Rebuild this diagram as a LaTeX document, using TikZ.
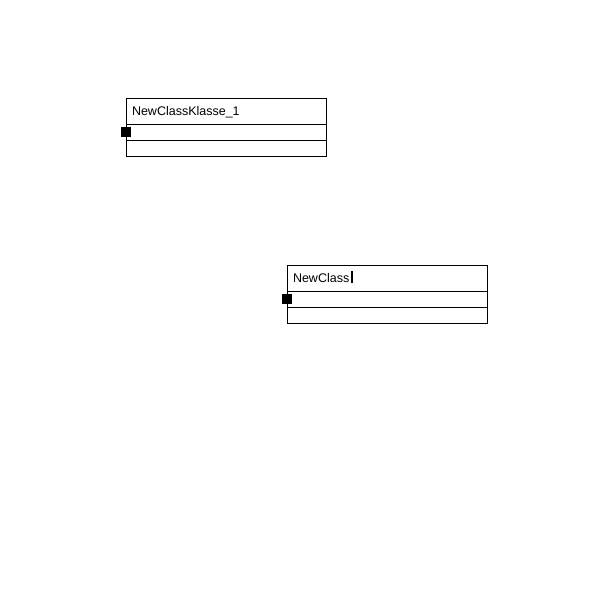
\documentclass[tikz,border=0pt]{standalone}
\usepackage{fontspec}
\setmainfont{Liberation Sans}
\usepackage{tikz}
\usetikzlibrary{positioning}
\tikzset{
    every node/.style={rectangle, line width=1pt, outer sep=0pt}
}
\tikzset{
    classname/.style={draw, minimum width=200pt, minimum height=26pt,
    	inner xsep=6pt, text width=188pt, align=left,
    	text height=8.8pt, text depth=0pt,
    	font=\fontsize{12.5}{14}\selectfont}
}
\tikzset{
    classpart/.style={draw, minimum width=200pt, minimum height=16pt,
    	inner sep=0pt}
}
\tikzset{
	handle/.style={fill=black, minimum size=10pt, inner sep=0pt}
}

\begin{document}
\begin{tikzpicture}[x=1pt, y=-1pt]
  \useasboundingbox (0,0) rectangle (600,600);

  \node (c1) [classname, anchor=north west] at (126,98) {NewClassKlasse\_1};
  \node (c1attr) [classpart, below=0pt of c1] {};
  \node (c1op) [classpart, below=0pt of c1attr] {};
  \node (c1h) [handle] at (c1attr.west) {};

  \node (c2) [classname, anchor=north west] at (287,265)
    {NewClass\hspace{1.5pt}\rule[-1pt]{2pt}{12pt}};
  \node (c2attr) [classpart, below=0pt of c2] {};
  \node (c2op) [classpart, below=0pt of c2attr] {};
  \node (c2h) [handle] at (c2attr.west) {};
\end{tikzpicture}
\end{document}
